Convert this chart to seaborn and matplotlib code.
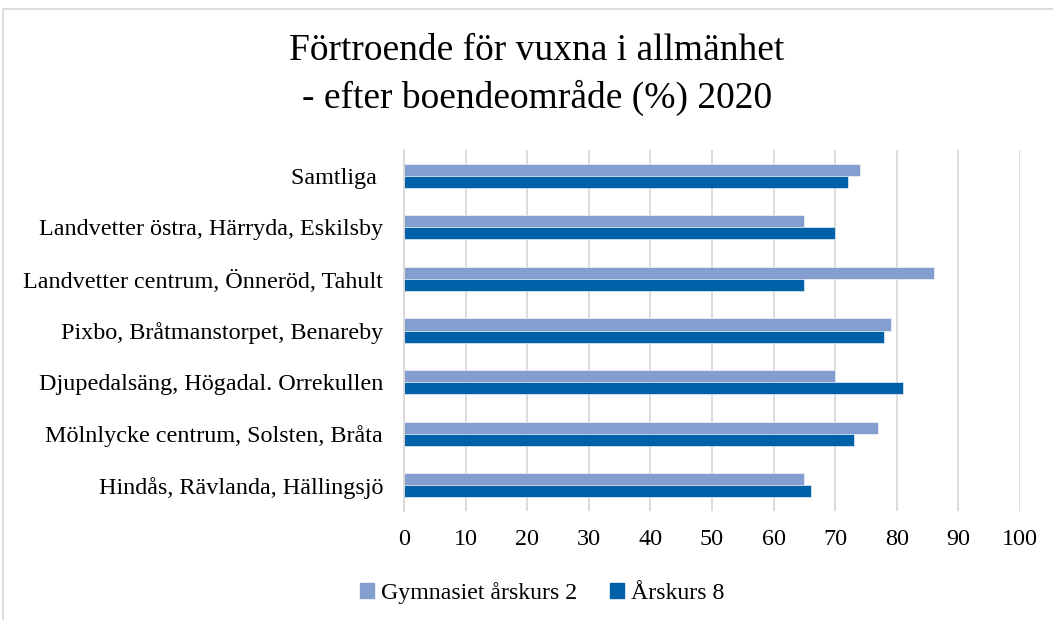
import matplotlib.pyplot as plt
import matplotlib.patches as mpatches
import pandas as pd
import seaborn as sns

areas = [
    "Samtliga ",
    "Landvetter östra, Härryda, Eskilsby",
    "Landvetter centrum, Önneröd, Tahult",
    "Pixbo, Bråtmanstorpet, Benareby",
    "Djupedalsäng, Högadal. Orrekullen",
    "Mölnlycke centrum, Solsten, Bråta",
    "Hindås, Rävlanda, Hällingsjö",
]
gymnasiet = [74, 65, 86, 79, 70, 77, 65]
arskurs8 = [72, 70, 65, 78, 81, 73, 66]
series = ["Gymnasiet årskurs 2", "Årskurs 8"]
colors = ["#849FCF", "#0060A8"]
x_ticks = list(range(0, 101, 10))

df = pd.DataFrame({
    "Område": areas * 2,
    "Procent": gymnasiet + arskurs8,
    "Grupp": [series[0]] * len(areas) + [series[1]] * len(areas),
})

sns.set_style("white")
plt.rcParams["font.family"] = ["Liberation Serif", "DejaVu Serif"]
plt.rcParams["text.color"] = "black"
plt.rcParams["xtick.color"] = "black"
plt.rcParams["ytick.color"] = "black"

fig = plt.figure(figsize=(10.53, 6.2), dpi=100)
ax = fig.add_axes([404 / 1053, 1 - 511 / 620, (1020 - 404) / 1053, (511 - 150) / 620])

sns.barplot(data=df, y="Område", x="Procent", hue="Grupp", hue_order=series,
            palette=colors, saturation=1, orient="h", width=0.47, ax=ax,
            edgecolor="white", linewidth=0.4, legend=True)

ax.set_xlim(0, 100)
ax.set_xticks(x_ticks)
ax.set_xticklabels([str(t) for t in x_ticks], fontsize=17.4)
ax.tick_params(axis="x", length=0, pad=13)
ax.tick_params(axis="y", length=0, pad=15, labelsize=17.4)
ax.set_xlabel("")
ax.set_ylabel("")
ax.grid(axis="x", color="#D9D9D9", linewidth=1.3)
ax.set_axisbelow(True)
for side in ["top", "right", "bottom"]:
    ax.spines[side].set_visible(False)
ax.spines["left"].set_color("#D9D9D9")
ax.spines["left"].set_linewidth(1.3)

ax.legend_.remove()
handles = [mpatches.Patch(color=c, label=s) for c, s in zip(colors, series)]
fig.legend(handles=handles, loc="center", bbox_to_anchor=(0.515, 1 - 593 / 620),
           ncol=2, frameon=False, fontsize=17.2, handlelength=0.55, handleheight=0.55,
           handletextpad=0.3, columnspacing=1.4)

fig.text(0.51, 1 - 75 / 620, "Förtroende för vuxna i allmänhet\n- efter boendeområde (%) 2020",
         ha="center", va="center", fontsize=27, linespacing=1.42)

fig.patches.append(mpatches.Rectangle((3 / 1053, -0.05), 1.1, 1.05 - 9 / 620,
                                      transform=fig.transFigure, fill=False,
                                      edgecolor="#D9D9D9", linewidth=1.3))

fig.savefig("out.png", dpi=100)
